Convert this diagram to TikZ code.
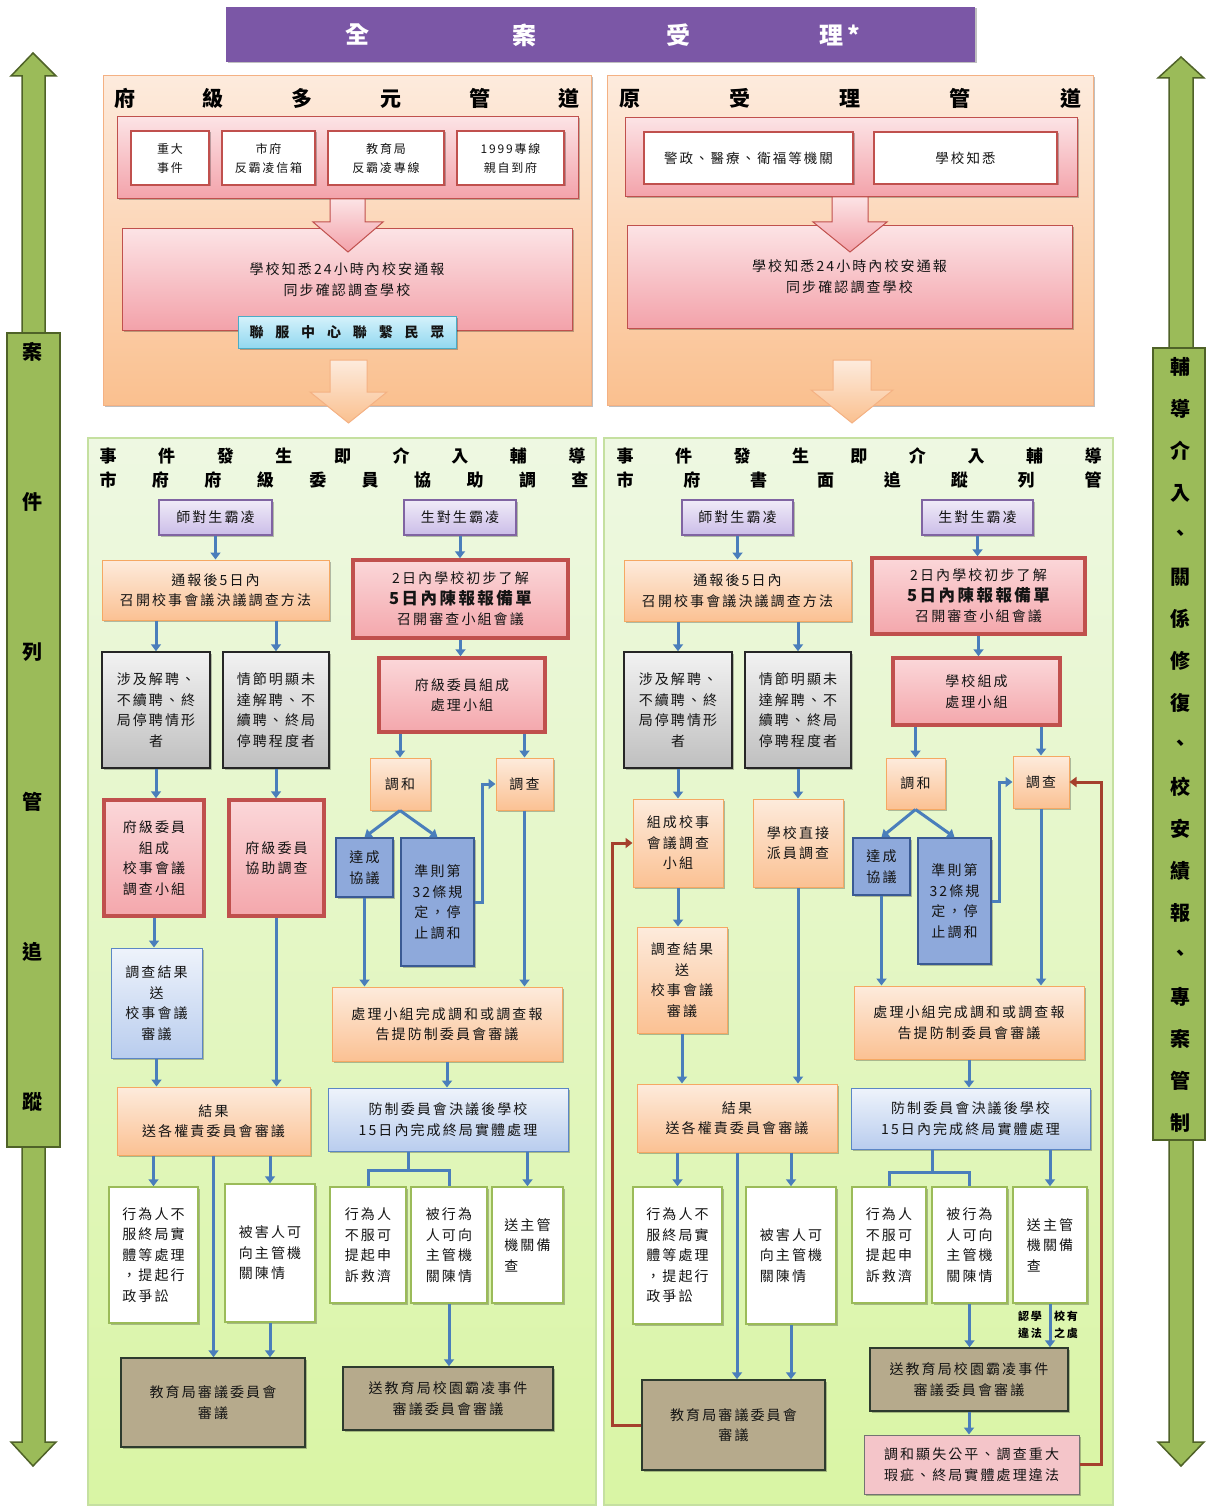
\documentclass[tikz,border=0pt]{standalone}
\usepackage{fontspec}
\setmainfont{Noto Sans CJK TC}[LetterSpace=15]
\usetikzlibrary{arrows.meta,shadows}
\definecolor{txt}{HTML}{141414}
\definecolor{purpA}{HTML}{F0EBF8}\definecolor{purpB}{HTML}{CBBDE8}\definecolor{purpbd}{HTML}{8064A2}
\definecolor{orA}{HTML}{FDEBDC}\definecolor{orB}{HTML}{FBC193}\definecolor{orbd}{HTML}{F5A863}
\definecolor{rdA}{HTML}{FBD7D9}\definecolor{rdB}{HTML}{F4A7AC}\definecolor{redbd}{HTML}{C0504D}
\definecolor{gyA}{HTML}{F2F2F2}\definecolor{gyB}{HTML}{BFBFBF}
\definecolor{dbfill}{HTML}{8EA9DB}\definecolor{dbbd}{HTML}{3A5A94}
\definecolor{lbA}{HTML}{EEF3FB}\definecolor{lbB}{HTML}{B9CDEE}\definecolor{lbbd}{HTML}{5B86C5}
\definecolor{whbd}{HTML}{9BBB59}
\definecolor{khfill}{HTML}{B6AA8C}\definecolor{khbd}{HTML}{2E3B2E}
\definecolor{pkfill}{HTML}{F4C5C9}
\definecolor{arrc}{HTML}{4A7EBB}
\definecolor{redln}{HTML}{A5402D}
\definecolor{poA}{HTML}{FDEBDD}\definecolor{poB}{HTML}{FAC08F}\definecolor{pobd}{HTML}{F4B183}
\definecolor{pkA}{HTML}{FCE3E5}\definecolor{pkB}{HTML}{F3A2AA}
\definecolor{cyA}{HTML}{D5F2FB}\definecolor{cyB}{HTML}{92D8F0}\definecolor{cybd}{HTML}{4BACC6}
\definecolor{gA}{HTML}{EEF8E2}\definecolor{gB}{HTML}{D9F5A4}\definecolor{gbd}{HTML}{C5E0A0}
\definecolor{sgf}{HTML}{9BBB59}\definecolor{sgbd}{HTML}{4F6228}
\definecolor{hdr}{HTML}{7B57A6}
\newcommand\mybox[7]{\node[#1, minimum width={(#5)-(#3)}, minimum height={(#6)-(#4)}] (#2) at ({((#3)+(#5))/2},{((#4)+(#6))/2}) {#7};}
\begin{document}
\begin{tikzpicture}[x=1pt,y=-1pt,
  shd/.style={drop shadow={shadow xshift=1.5pt, shadow yshift=-1.5pt, opacity=0.25, fill=black}},
  base/.style={inner sep=0pt, align=center, text=txt, font=\fontsize{14}{20.5}\selectfont, shd},
  purp/.style={base, draw=purpbd, line width=1.5pt, top color=purpA, bottom color=purpB},
  orng/.style={base, draw=orbd, line width=1pt, top color=orA, bottom color=orB},
  redb/.style={base, draw=redbd, line width=3.5pt, top color=rdA, bottom color=rdB},
  grayb/.style={base, draw=black!85, line width=1.5pt, top color=gyA, bottom color=gyB},
  dblue/.style={base, draw=dbbd, line width=1.5pt, fill=dbfill},
  lblue/.style={base, draw=lbbd, line width=1pt, top color=lbA, bottom color=lbB},
  wht/.style={base, draw=whbd, line width=1.5pt, fill=white, align=left},
  khaki/.style={base, draw=khbd, line width=1.5pt, fill=khfill},
  pinkf/.style={base, draw=black!55, line width=1pt, fill=pkfill},
  wred/.style={base, draw=redbd, line width=2.5pt, fill=white, font=\fontsize{12}{19}\selectfont},
  pinkbox/.style={base, draw=redbd, line width=1pt, top color=pkA, bottom color=pkB, font=\fontsize{14}{21}\selectfont},
  cyanbox/.style={base, draw=cybd, line width=1pt, top color=cyA, bottom color=cyB, font=\fontsize{14}{16}\selectfont\bfseries},
  panelO/.style={draw=pobd, line width=1pt, top color=poA, bottom color=poB, inner sep=0pt, shd},
  panelG/.style={draw=gbd, line width=1.5pt, top color=gA, bottom color=gB, inner sep=0pt},
  ttlA/.style={inner sep=0pt, text=black, font=\fontsize{21}{24}\selectfont\bfseries},
  ttlB/.style={inner sep=0pt, text=black, font=\fontsize{17}{20}\selectfont\bfseries},
  sidetxt/.style={inner sep=0pt, text=black, font=\fontsize{20}{22}\selectfont\bfseries},
  hdrtxt/.style={inner sep=0pt, text=white, font=\fontsize{24}{26}\selectfont\bfseries},
  smallb/.style={inner sep=0pt, text=black, font=\fontsize{11}{12}\selectfont\bfseries},
  arr/.style={draw=arrc, line width=3pt, -{Triangle[length=7pt,width=10pt]}},
  ln/.style={draw=arrc, line width=3pt},
  redarr/.style={draw=redln, line width=3pt, -{Triangle[length=7pt,width=10pt]}},
  sidearrow/.style={draw=sgbd, line width=1.5pt, fill=sgf},
  pinkarrow/.style={draw=redbd, line width=1pt, top color=pkA, bottom color=pkB},
  orarrow/.style={draw=pobd, line width=1pt, top color=poA, bottom color=poB},
]
\useasboundingbox (0,0) rectangle (1206,1506);
\fill[white] (0,0) rectangle (1206,1506);

% ===== header =====
\node[fill=hdr, minimum width=749, minimum height=55, inner sep=0pt, shd] (hdr) at (600.5,34.5) {};
\node[hdrtxt] (h1) at (357,35) {全};
\node[hdrtxt] (h2) at (524,35) {案};
\node[hdrtxt] (h3) at (678,35) {受};
\node[hdrtxt] (h4) at (840,35) {理*};

% ===== side arrows =====
\draw[sidearrow] (33,53) -- (56,76) -- (45,76) -- (45,1442) -- (56,1442) -- (33,1466) -- (11,1442) -- (22,1442) -- (22,76) -- (11,76) -- cycle;
\node[draw=sgbd, line width=1.5pt, fill=sgf, minimum width=53, minimum height=814, inner sep=0pt] (sbL) at (33.5,740) {};
\foreach \c [count=\i] in {案,件,列,管,追,蹤} {\node[sidetxt] (sl\i) at (33,{352+150*(\i-1)}) {\c};}
\draw[sidearrow] (1181,57) -- (1204,78) -- (1193,78) -- (1193,1442) -- (1204,1442) -- (1181,1466) -- (1158,1442) -- (1169,1442) -- (1169,78) -- (1158,78) -- cycle;
\node[draw=sgbd, line width=1.5pt, fill=sgf, minimum width=52, minimum height=792, inner sep=0pt] (sbR) at (1179,744) {};
\foreach \c [count=\i] in {輔,導,介,入,、,關,係,修,復,、,校,安,績,報,、,專,案,管,制} {\node[sidetxt] (sr\i) at (1180,{367+42*(\i-1)}) {\c};}

% ===== top-left panel =====
\mybox{panelO}{pTL}{103}{76}{591}{405}{}
\node[ttlA] (tTL) at (346.5,98) {\makebox[465pt]{府\hfill 級\hfill 多\hfill 元\hfill 管\hfill 道}};
\mybox{pinkbox}{inTL}{117}{117}{578}{199}{}
\mybox{wred}{s1}{131}{131}{209}{185}{重大\\事件}
\mybox{wred}{s2}{222}{131}{315}{185}{市府\\反霸凌信箱}
\mybox{wred}{s3}{328}{131}{444}{185}{教育局\\反霸凌專線}
\mybox{wred}{s4}{457}{131}{564}{185}{1999專線\\親自到府}
\mybox{pinkbox}{rpTL}{122}{229}{572}{330}{學校知悉24小時內校安通報\\同步確認調查學校}
\draw[pinkarrow] (330,199) -- (365,199) -- (365,222) -- (383,222) -- (348,252) -- (313,222) -- (330,222) -- cycle;
\mybox{cyanbox}{cyTL}{238}{316}{456}{348}{\makebox[195pt]{聯\hfill 服\hfill 中\hfill 心\hfill 聯\hfill 繫\hfill 民\hfill 眾}}
\draw[orarrow] (330,360) -- (367,360) -- (367,392) -- (387,392) -- (348.5,423) -- (310,392) -- (330,392) -- cycle;

% ===== top-right panel =====
\mybox{panelO}{pTR}{607}{76}{1093}{405}{}
\node[ttlA] (tTR) at (850,98) {\makebox[462pt]{原\hfill 受\hfill 理\hfill 管\hfill 道}};
\mybox{pinkbox}{inTR}{625}{118}{1077}{197}{}
\mybox{wred}{s5}{644}{132}{853}{184}{\fontsize{13.5}{16}\selectfont 警政、醫療、衛福等機關}
\mybox{wred}{s6}{874}{132}{1057}{184}{\fontsize{13.5}{16}\selectfont 學校知悉}
\mybox{pinkbox}{rpTR}{627}{226}{1072}{328}{學校知悉24小時內校安通報\\同步確認調查學校}
\draw[pinkarrow] (832,197) -- (868,197) -- (868,222) -- (887,222) -- (850,252) -- (813,222) -- (832,222) -- cycle;
\draw[orarrow] (833,360) -- (871,360) -- (871,390) -- (893,390) -- (852,423) -- (811,390) -- (833,390) -- cycle;

% ===== green panels =====
\mybox{panelG}{gL}{88}{438}{596}{1505}{}
\mybox{panelG}{gR}{604}{438}{1113}{1505}{}
\node[ttlB] (gL1) at (342.5,456) {\makebox[486pt]{事\hfill 件\hfill 發\hfill 生\hfill 即\hfill 介\hfill 入\hfill 輔\hfill 導}};
\node[ttlB] (gL2) at (344,480) {\makebox[489pt]{市\hfill 府\hfill 府\hfill 級\hfill 委\hfill 員\hfill 協\hfill 助\hfill 調\hfill 查}};
\node[ttlB] (gR1) at (859,456) {\makebox[485pt]{事\hfill 件\hfill 發\hfill 生\hfill 即\hfill 介\hfill 入\hfill 輔\hfill 導}};
\node[ttlB] (gR2) at (859,480) {\makebox[485pt]{市\hfill 府\hfill 書\hfill 面\hfill 追\hfill 蹤\hfill 列\hfill 管}};

% ===== left flow =====
\mybox{purp}{lA}{159}{500}{272}{535}{師對生霸凌}
\mybox{purp}{lB}{404}{500}{516}{535}{生對生霸凌}
\mybox{orng}{lC}{102}{560}{329}{620}{通報後5日內\\召開校事會議決議調查方法}
\mybox{redb}{lD}{353}{560}{568}{638}{2日內學校初步了解\\{\fontsize{16.5}{21}\selectfont\bfseries 5日內陳報報備單}\\召開審查小組會議}
\mybox{grayb}{lE}{102}{652}{210}{768}{涉及解聘、\\不續聘、終\\局停聘情形\\者}
\mybox{grayb}{lF}{223}{652}{329}{768}{情節明顯未\\達解聘、不\\續聘、終局\\停聘程度者}
\mybox{redb}{lG}{379}{658}{545}{732}{府級委員組成\\處理小組}
\mybox{orng}{lH}{370}{758}{430}{810}{調和}
\mybox{orng}{lI}{496}{758}{553}{810}{調查}
\mybox{redb}{lJ}{104}{800}{204}{916}{府級委員\\組成\\校事會議\\調查小組}
\mybox{redb}{lK}{229}{800}{324}{916}{府級委員\\協助調查}
\mybox{dblue}{lL}{336}{838}{393}{897}{達成\\協議}
\mybox{dblue}{lM}{401}{838}{474}{966}{準則第\\32條規\\定，停\\止調和}
\mybox{lblue}{lN}{111}{948}{202}{1058}{調查結果\\送\\校事會議\\審議}
\mybox{orng}{lO}{332}{987}{562}{1061}{處理小組完成調和或調查報\\告提防制委員會審議}
\mybox{orng}{lP}{117}{1087}{310}{1155}{結果\\送各權責委員會審議}
\mybox{lblue}{lQ}{328}{1088}{568}{1151}{防制委員會決議後學校\\15日內完成終局實體處理}
\mybox{wht}{lR}{109}{1187}{198}{1323}{行為人不\\服終局實\\體等處理\\，提起行\\政爭訟}
\mybox{wht}{lS}{225}{1184}{315}{1322}{被害人可\\向主管機\\關陳情}
\mybox{wht}{lT}{330}{1187}{406}{1303}{行為人\\不服可\\提起申\\訴救濟}
\mybox{wht}{lU}{411}{1187}{487}{1303}{被行為\\人可向\\主管機\\關陳情}
\mybox{wht}{lV}{492}{1187}{563}{1303}{送主管\\機關備\\查}
\mybox{khaki}{lW}{121}{1358}{305}{1447}{教育局審議委員會\\審議}
\mybox{khaki}{lX}{343}{1367}{553}{1430}{送教育局校園霸凌事件\\審議委員會審議}

\draw[arr] (lA.south) -- (lA.south |- lC.north);
\draw[arr] (lB.south) -- (lB.south |- lD.north);
\draw[arr] (lE.north |- lC.south) -- (lE.north);
\draw[arr] (lF.north |- lC.south) -- (lF.north);
\draw[arr] (lD.south) -- (lD.south |- lG.north);
\draw[arr] (lH.north |- lG.south) -- (lH.north);
\draw[arr] (lI.north |- lG.south) -- (lI.north);
\draw[arr] (lE.south) -- (lE.south |- lJ.north);
\draw[arr] (lF.south) -- (lF.south |- lK.north);
\draw[arr] (lH.south) -- (lL.north);
\draw[arr] (lH.south) -- (lM.north);
\draw[arr] (lM.east) -- ++(8,0) |- (lI.west);
\draw[arr] (lJ.south) -- (lJ.south |- lN.north);
\draw[arr] (lK.south) -- (lK.south |- lP.north);
\draw[arr] (lN.south) -- (lN.south |- lP.north);
\draw[arr] (lL.south) -- (lL.south |- lO.north);
\draw[arr] (lI.south) -- (lI.south |- lO.north);
\draw[arr] (lO.south) -- (lO.south |- lQ.north);
\draw[arr] (lR.north |- lP.south) -- (lR.north);
\draw[arr] (lS.north |- lP.south) -- (lS.north);
\draw[arr] (lP.south) -- (lP.south |- lW.north);
\draw[arr] (lS.south) -- (lS.south |- lW.north);
\coordinate (LB) at (408,1170);
\draw[ln] (lQ.south -| LB) -- (LB);
\draw[ln] (lT.north) |- (lU.north |- LB) -- (lU.north);
\draw[arr] (lV.north |- lQ.south) -- (lV.north);
\draw[arr] (lU.south) -- (lU.south |- lX.north);

% ===== right flow =====
\mybox{purp}{rA}{682}{500}{793}{535}{師對生霸凌}
\mybox{purp}{rB}{922}{500}{1033}{535}{生對生霸凌}
\mybox{orng}{rC}{624}{560}{851}{621}{通報後5日內\\召開校事會議決議調查方法}
\mybox{redb}{rD}{872}{558}{1085}{634}{2日內學校初步了解\\{\fontsize{16.5}{21}\selectfont\bfseries 5日內陳報報備單}\\召開審查小組會議}
\mybox{grayb}{rE}{624}{652}{732}{768}{涉及解聘、\\不續聘、終\\局停聘情形\\者}
\mybox{grayb}{rF}{745}{652}{851}{768}{情節明顯未\\達解聘、不\\續聘、終局\\停聘程度者}
\mybox{redb}{rG}{893}{658}{1060}{725}{學校組成\\處理小組}
\mybox{orng}{rH}{886}{758}{945}{809}{調和}
\mybox{orng}{rI}{1013}{756}{1069}{808}{調查}
\mybox{orng}{rJ}{633}{799}{723}{887}{組成校事\\會議調查\\小組}
\mybox{orng}{rK}{753}{799}{843}{887}{學校直接\\派員調查}
\mybox{dblue}{rL}{853}{838}{910}{895}{達成\\協議}
\mybox{dblue}{rM}{918}{838}{991}{964}{準則第\\32條規\\定，停\\止調和}
\mybox{orng}{rN}{637}{927}{727}{1033}{調查結果\\送\\校事會議\\審議}
\mybox{orng}{rO}{854}{986}{1084}{1059}{處理小組完成調和或調查報\\告提防制委員會審議}
\mybox{orng}{rP}{637}{1084}{837}{1152}{結果\\送各權責委員會審議}
\mybox{lblue}{rQ}{851}{1088}{1090}{1149}{防制委員會決議後學校\\15日內完成終局實體處理}
\mybox{wht}{rR}{633}{1187}{722}{1324}{行為人不\\服終局實\\體等處理\\，提起行\\政爭訟}
\mybox{wht}{rS}{746}{1187}{836}{1324}{被害人可\\向主管機\\關陳情}
\mybox{wht}{rT}{852}{1187}{926}{1303}{行為人\\不服可\\提起申\\訴救濟}
\mybox{wht}{rU}{932}{1187}{1007}{1303}{被行為\\人可向\\主管機\\關陳情}
\mybox{wht}{rV}{1013}{1187}{1087}{1303}{送主管\\機關備\\查}
\mybox{khaki}{rW}{642}{1380}{825}{1470}{教育局審議委員會\\審議}
\mybox{khaki}{rX}{870}{1348}{1068}{1411}{送教育局校園霸凌事件\\審議委員會審議}
\mybox{pinkf}{rY}{864}{1435}{1079}{1494}{調和顯失公平、調查重大\\瑕疵、終局實體處理違法}

\draw[arr] (rA.south) -- (rA.south |- rC.north);
\draw[arr] (rB.south) -- (rB.south |- rD.north);
\draw[arr] (rE.north |- rC.south) -- (rE.north);
\draw[arr] (rF.north |- rC.south) -- (rF.north);
\draw[arr] (rD.south) -- (rD.south |- rG.north);
\draw[arr] (rH.north |- rG.south) -- (rH.north);
\draw[arr] (rI.north |- rG.south) -- (rI.north);
\draw[arr] (rJ.north |- rE.south) -- (rJ.north);
\draw[arr] (rK.north |- rF.south) -- (rK.north);
\draw[arr] (rH.south) -- (rL.north);
\draw[arr] (rH.south) -- (rM.north);
\draw[arr] (rM.east) -- ++(8,0) |- (rI.west);
\draw[arr] (rJ.south) -- (rJ.south |- rN.north);
\draw[arr] (rK.south) -- (rK.south |- rP.north);
\draw[arr] (rN.south) -- (rN.south |- rP.north);
\draw[arr] (rL.south) -- (rL.south |- rO.north);
\draw[arr] (rI.south) -- (rI.south |- rO.north);
\draw[arr] (rO.south) -- (rO.south |- rQ.north);
\draw[arr] (rR.north |- rP.south) -- (rR.north);
\draw[arr] (rS.north |- rP.south) -- (rS.north);
\draw[arr] (rP.south) -- (rP.south |- rW.north);
\draw[arr] (rS.south) -- (rS.south |- rW.north);
\coordinate (RB) at (932,1172);
\draw[ln] (rQ.south -| RB) -- (RB);
\draw[ln] (rT.north) |- (rU.north |- RB) -- (rU.north);
\draw[arr] (rV.north |- rQ.south) -- (rV.north);
\draw[arr] (rU.south) -- (rU.south |- rX.north);
\draw[arr] (rV.south) -- (rV.south |- rX.north);
\draw[arr] (rX.south) -- (rX.south |- rY.north);
\node[smallb] (q1) at (1030,1316) {認學};
\node[smallb] (q2) at (1066,1316) {校有};
\node[smallb] (q3) at (1030,1333) {違法};
\node[smallb] (q4) at (1066,1333) {之虞};
\draw[redarr] (rW.west) -- ++(-29,0) |- (rJ.west);
\draw[redarr] (rY.east) -- ++(22,0) |- (rI.east);
\end{tikzpicture}
\end{document}
